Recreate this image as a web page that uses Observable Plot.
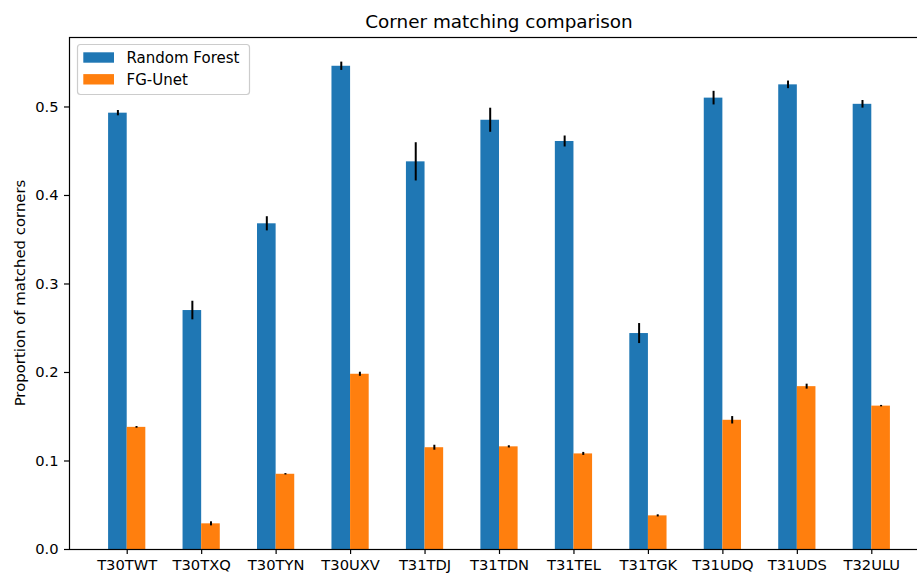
<!DOCTYPE html>
<html><head><meta charset="utf-8">
<script src="https://cdn.jsdelivr.net/npm/d3@7"></script>
<script src="https://cdn.jsdelivr.net/npm/@observablehq/plot@0.6"></script>
<style>body{margin:0;background:#fff} svg{display:block}</style>
</head><body><div id="chart"></div>
<script>
const categories = ["T30TWT","T30TXQ","T30TYN","T30UXV","T31TDJ","T31TDN","T31TEL","T31TGK","T31UDQ","T31UDS","T32ULU"];
const randomForest    = [0.493, 0.270, 0.368, 0.546, 0.438, 0.485, 0.461, 0.244, 0.510, 0.525, 0.503];
const randomForestErr = [0.003, 0.0105, 0.008, 0.0047, 0.0216, 0.0136, 0.0062, 0.0113, 0.0077, 0.0043, 0.0043];
const fgUnet          = [0.138, 0.029, 0.085, 0.198, 0.115, 0.116, 0.108, 0.038, 0.146, 0.184, 0.162];
const fgUnetErr       = [0.001, 0.0023, 0.0008, 0.0023, 0.0028, 0.0012, 0.0017, 0.0012, 0.0042, 0.0028, 0.0008];
const seriesNames = ["Random Forest", "FG-Unet"];
const seriesColors = ["#1f77b4", "#ff7f0e"];
const yTicks = [0, 0.1, 0.2, 0.3, 0.4, 0.5];
const barWidth = 0.25;
const titleText = "Corner matching comparison";
const yLabel = "Proportion of matched corners";

const rows = categories.flatMap((c, i) => [
  {cat: c, i, series: seriesNames[0], x1: i - barWidth, x2: i, xc: i - barWidth / 2, v: randomForest[i], e: randomForestErr[i]},
  {cat: c, i, series: seriesNames[1], x1: i, x2: i + barWidth, xc: i + barWidth / 2, v: fgUnet[i], e: fgUnetErr[i]}
]);

const FONT = "DejaVu Sans";
const W = 917, H = 577, ML = 69, MT = 37, MB = 28, MR = -12;

const chart = Plot.plot({
  width: W, height: H,
  marginTop: MT, marginBottom: MB, marginLeft: ML, marginRight: MR,
  style: {fontFamily: FONT, fontSize: "14.7px", color: "#000", background: "#fff"},
  x: {domain: [-0.775, 10.775]},
  y: {domain: [0, 0.5785]},
  color: {domain: seriesNames, range: seriesColors},
  marks: [
    Plot.rect(rows, {x1: "x1", x2: "x2", y1: 0, y2: "v", fill: "series", inset: 0}),
    Plot.ruleX(rows, {x: "xc", y1: d => d.v - d.e, y2: d => d.v + d.e, stroke: "#000", strokeWidth: 2}),
    Plot.axisX({ticks: categories.map((c, i) => i), tickFormat: i => categories[i], tickSize: 5, tickPadding: 5, label: null, fontSize: 14.7, strokeWidth: 1.2}),
    Plot.axisY({ticks: yTicks, tickFormat: d3.format(".1f"), tickSize: 5, tickPadding: 6, label: null, fontSize: 14.7, strokeWidth: 1.2}),
    Plot.frame({stroke: "#000", strokeWidth: 1.2})
  ]
});
document.getElementById("chart").appendChild(chart);

const svg = d3.select(chart);
const cx = (ML + (W - MR)) / 2;
svg.append("text").attr("x", cx).attr("y", 28).attr("text-anchor", "middle")
  .attr("font-family", FONT).attr("font-size", 18.4).attr("fill", "#000").text(titleText);
svg.append("text").attr("transform", `translate(25,${(MT + (H - MB)) / 2}) rotate(-90)`)
  .attr("text-anchor", "middle").attr("font-family", FONT).attr("font-size", 14.9).attr("fill", "#000").text(yLabel);

const lg = svg.append("g");
lg.append("rect").attr("x", 77.5).attr("y", 44.5).attr("width", 172).attr("height", 50).attr("rx", 3)
  .attr("fill", "#fff").attr("fill-opacity", 0.8).attr("stroke", "#cccccc").attr("stroke-width", 1.2);
seriesNames.forEach((name, k) => {
  const yy = 52.3 + k * 21.8;
  lg.append("rect").attr("x", 83.3).attr("y", yy).attr("width", 30.7).attr("height", 10.4).attr("fill", seriesColors[k]);
  lg.append("text").attr("x", 126.5).attr("y", yy + 10.4).attr("text-anchor", "start")
    .attr("font-family", FONT).attr("font-size", 15).attr("fill", "#000").text(name);
});
</script>
</body></html>
